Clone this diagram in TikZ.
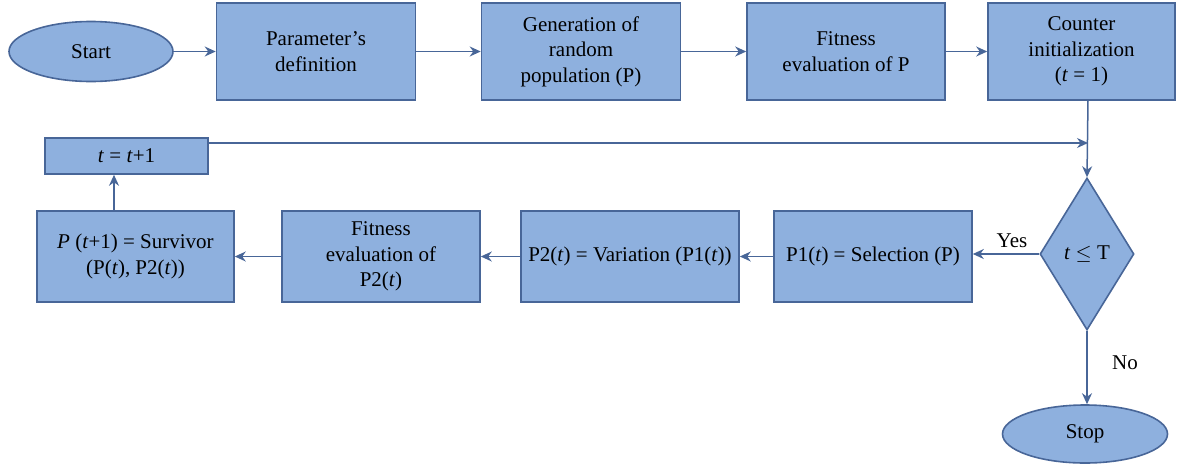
\documentclass[tikz,border=0pt]{standalone}
\usepackage{fontspec}
\setmainfont{Liberation Serif}
\usetikzlibrary{shapes.geometric,arrows.meta}
\definecolor{boxfill}{RGB}{142,176,222}
\definecolor{boxline}{RGB}{72,102,152}
\begin{document}
\begin{tikzpicture}[x=1pt,y=-1pt,
  every node/.style={font=\fontsize{21}{25.5}\selectfont},
  stepbox/.style={rectangle,draw=boxline,fill=boxfill,line width=1.6pt,align=center,inner sep=2pt},
  termin/.style={ellipse,draw=boxline,fill=boxfill,line width=1.6pt,inner sep=0pt},
  decis/.style={diamond,draw=boxline,fill=boxfill,line width=1.6pt,inner sep=0pt},
  conn/.style={draw=boxline,line width=1.5pt,-{Stealth[length=11pt,width=10pt]}},
  lbl/.style={inner sep=0pt}]
\useasboundingbox (0,0) rectangle (1180,464);
\node[termin,minimum width=164pt,minimum height=60pt] (start) at (91,51.5) {Start};
\node[stepbox,minimum width=199pt,minimum height=97pt] (param) at (316,51.5) {Parameter’s\\definition};
\node[stepbox,minimum width=199pt,minimum height=97pt] (gen) at (581,51.5) {Generation of\\random\\population (P)};
\node[stepbox,minimum width=198pt,minimum height=97pt] (fit) at (846,51.5) {Fitness\\evaluation of P};
\node[stepbox,minimum width=187pt,minimum height=97pt] (count) at (1081.5,51.5) {Counter\\initialization\\(\textit{t} = 1)};
\node[decis,minimum width=94pt,minimum height=152pt] (dec) at (1087,254) {\textit{t} $\leq$ T};
\node[termin,minimum width=165pt,minimum height=58pt] (stop) at (1085,434) {Stop};
\node[stepbox,minimum width=198pt,minimum height=91pt] (sel) at (873,256.5) {P1(\textit{t}) = Selection (P)};
\node[stepbox,minimum width=218pt,minimum height=91pt,inner sep=0pt] (var) at (630,256.5) {P2(\textit{t}) = Variation (P1(\textit{t}))};
\node[stepbox,minimum width=198pt,minimum height=91pt] (fit2) at (381,256.5) {Fitness\\evaluation of\\P2(\textit{t})};
\node[stepbox,minimum width=197pt,minimum height=91pt] (surv) at (135.5,256.5) {\textit{P} (\textit{t}+1) = Survivor\\(P(\textit{t}), P2(\textit{t}))};
\node[stepbox,minimum width=163pt,minimum height=36pt] (inc) at (126.5,156) {\textit{t} = \textit{t}+1};
\coordinate (cdown) at (1088,100);
\coordinate (join) at (1088,143);
\draw[conn] (start) -- (param);
\draw[conn] (param) -- (gen);
\draw[conn] (gen) -- (fit);
\draw[conn] (fit) -- (count);
\draw[conn] (cdown) -- (dec.north);
\draw[conn] (inc.east |- join) -- (join);
\draw[conn] (dec.west) -- (sel.east |- dec.west);
\draw[conn] (sel) -- (var);
\draw[conn] (var) -- (fit2);
\draw[conn] (fit2) -- (surv);
\draw[conn] (surv.north -| 114,0) -- (inc.south -| 114,0);
\draw[conn] (dec.south) -- (stop.north -| dec.south);
\node[lbl] (yes) at (1012,241) {Yes};
\node[lbl] (no) at (1125,363) {No};
\end{tikzpicture}
\end{document}
